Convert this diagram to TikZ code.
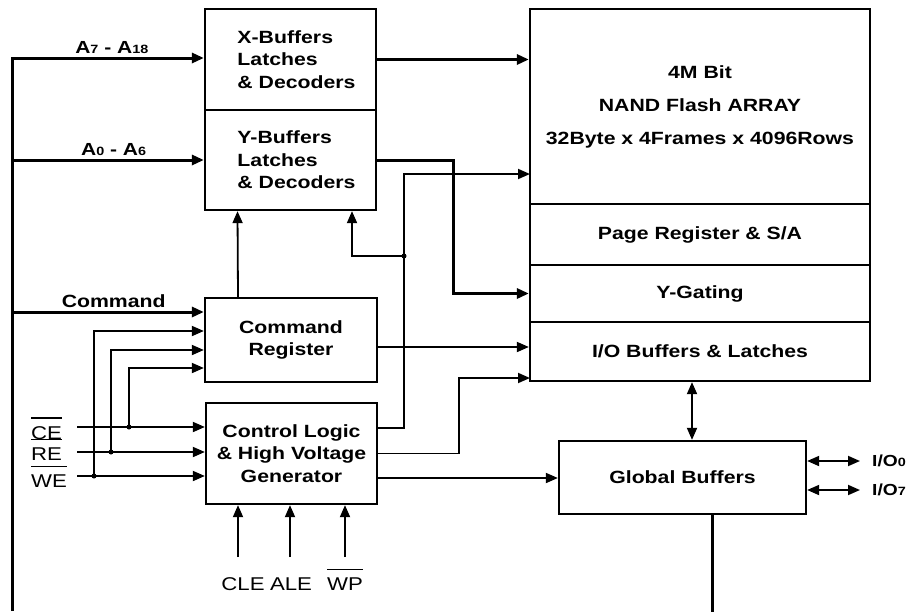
\documentclass[tikz,border=0pt]{standalone}
\usepackage{fontspec}
\setmainfont{Liberation Sans}[FakeStretch=1.2]
\usepackage{tikz}
\usetikzlibrary{arrows.meta}
\usetikzlibrary{calc}
\usetikzlibrary{positioning}
\newcommand{\blkfont}{\fontsize{17.7}{22.5}\selectfont\bfseries}
\newcommand{\pinfont}{\fontsize{18.5}{20}\selectfont}
\newcommand{\sub}[1]{{\fontsize{12}{12}\selectfont #1}}
\newcommand{\ovl}[1]{\vbox{\hrule height 1.6pt\kern 7pt\hbox{#1}}}
\tikzstyle{block} = [draw, line width=2.3pt, rectangle, inner sep=0pt, font=\blkfont]
\tikzstyle{wire} = [line width=1.8pt]
\tikzstyle{bus} = [line width=3pt]
\tikzstyle{pin} = [coordinate]
\tikzstyle{tap} = [circle, fill, inner sep=0pt, minimum size=5pt]
\tikzstyle{buslabel} = [above, font=\fontsize{17.5}{17.5}\selectfont\bfseries]
\tikzstyle{pinlabel} = [font=\pinfont, inner sep=0pt]
\tikzstyle{iolabel} = [anchor=west, inner xsep=12pt, font=\fontsize{16}{16}\selectfont\bfseries]

\begin{document}
\begin{tikzpicture}[x=1pt, y=-1pt, >={Triangle[length=12pt,width=10pt]}]
    \useasboundingbox (0,0) rectangle (913,611);

    \node [block, minimum width=171pt, minimum height=101pt, align=left] (xbuf) at (290.5,59.5) {\hspace*{12pt}X-Buffers\\\hspace*{12pt}Latches\\\hspace*{12pt}\& Decoders};
    \node [block, minimum width=171pt, minimum height=100pt, align=left] (ybuf) at (290.5,160) {\hspace*{12pt}Y-Buffers\\\hspace*{12pt}Latches\\\hspace*{12pt}\& Decoders};
    \node [block, minimum width=172pt, minimum height=84pt, align=center] (cmdreg) at (291,340) {Command\\Register};
    \node [block, minimum width=171pt, minimum height=101pt, align=center] (ctrl) at (291.5,453.5) {Control Logic\\\& High Voltage\\Generator};
    \node [block, minimum width=340pt, minimum height=195pt, align=center, font=\fontsize{17.7}{33}\selectfont\bfseries] (array) at (700,106.5) {4M Bit\\NAND Flash ARRAY\\32Byte x 4Frames x 4096Rows};
    \node [block, minimum width=340pt, minimum height=61pt] (pagereg) at (700,234.5) {Page Register \& S/A};
    \node [block, minimum width=340pt, minimum height=57pt] (ygate) at (700,293.5) {Y-Gating};
    \node [block, minimum width=340pt, minimum height=59pt] (iobuf) at (700,351.5) {I/O Buffers \& Latches};
    \node [block, minimum width=247pt, minimum height=73pt] (globuf) at (682.5,477.5) {Global Buffers};

    \node [pin] (bustop) at (12,58) {};
    \node [pin] (busbot) at (12,611) {};
    \node [pin] (cmdin) at (12,312) {};
    \node [pin] (ce) at (77,427) {};
    \node [pin] (re) at (77,452) {};
    \node [pin] (we) at (77,476) {};
    \node [tap] (tce) at (129,427) {};
    \node [tap] (tre) at (111,452) {};
    \node [tap] (twe) at (94,476) {};
    \node [pin] (ctrlA) at (377,428) {};
    \node [pin] (ctrlC) at (377,478) {};
    \node [tap] (tctl) at (404,256) {};
    \node [pin] (arrin) at (530,174) {};
    \node [pin] (ioin) at (530,378) {};
    \node [pin] (cmdout) at (377,347) {};
    \node [pin] (cle) at (238,557) {};
    \node [pin] (ale) at (290,557) {};
    \node [pin] (wp) at (345,557) {};

    \node [pinlabel, anchor=base west] (lce) at (31,439) {\ovl{CE}};
    \node [pinlabel, anchor=base west] (lre) at (31,460) {\ovl{RE}};
    \node [pinlabel, anchor=base west] (lwe) at (31,487) {\ovl{WE}};
    \node [pinlabel, anchor=base] (lcle) at (243,590) {CLE};
    \node [pinlabel, anchor=base] (lale) at (291,590) {ALE};
    \node [pinlabel, anchor=base] (lwp) at (345,590) {\ovl{WP}};
    \node [iolabel] (lio0) at (860,461) {I/O\sub{0}};
    \node [iolabel] (lio7) at (860,490) {I/O\sub{7}};

    \draw [bus, ->] (busbot) -- (bustop) -- node[buslabel, pos=0.52] {A\sub{7} - A\sub{18}} (bustop -| xbuf.west);
    \draw [bus, ->] (bustop |- ybuf.west) -- node[buslabel, pos=0.53] {A\sub{0} - A\sub{6}} (ybuf.west);
    \draw [bus, ->] (cmdin) -- node[buslabel, pos=0.53, font=\blkfont] {Command} (cmdin -| cmdreg.west);
    \draw [bus, ->] (xbuf.east) -- (xbuf.east -| array.west);
    \draw [bus, ->] (ybuf.east) -- ++(76,0) |- (ygate.west);

    \draw [wire, ->] ([xshift=-53pt]cmdreg.north) -- ([xshift=-53pt]ybuf.south);
    \draw [wire, ->] (ctrlA) -| (tctl.center) |- (arrin);
    \draw [wire, ->] (tctl.center) -| ([xshift=61.5pt]ybuf.south);
    \draw [wire, ->] (cmdout) -- (cmdout -| iobuf.west);
    \draw [wire, ->] (ctrl.east) -- ++(81,0) |- (ioin);
    \draw [wire, ->] (ctrlC) -- (ctrlC -| globuf.west);
    \draw [wire, <->] ([xshift=-8pt]iobuf.south) -- ([xshift=9.5pt]globuf.north);
    \draw [bus] ([xshift=29.5pt]globuf.south) -- ++(0,97);

    \draw [wire, ->] (ce) -- (ce -| ctrl.west);
    \draw [wire, ->] (re) -- (re -| ctrl.west);
    \draw [wire, ->] (we) -- (we -| ctrl.west);
    \draw [wire, ->] (tce.center) |- ([yshift=-28pt]cmdreg.west);
    \draw [wire, ->] (tre.center) |- ([yshift=-10pt]cmdreg.west);
    \draw [wire, ->] (twe.center) |- ([yshift=9pt]cmdreg.west);
    \draw [wire, ->] (cle) -- (cle |- ctrl.south);
    \draw [wire, ->] (ale) -- (ale |- ctrl.south);
    \draw [wire, ->] (wp) -- (wp |- ctrl.south);
    \draw [wire, <->] (lio0.west -| globuf.east) -- (lio0.west);
    \draw [wire, <->] (lio7.west -| globuf.east) -- (lio7.west);
\end{tikzpicture}
\end{document}
